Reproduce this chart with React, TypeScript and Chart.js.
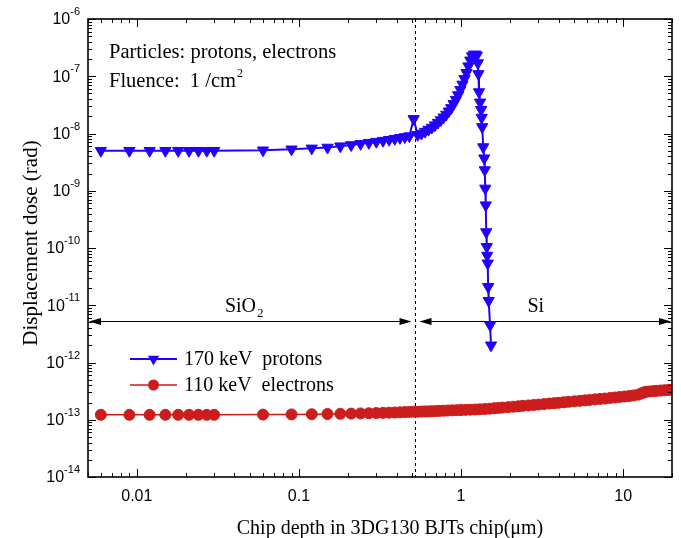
import React, { useEffect, useRef } from 'react';
import { Chart, registerables } from 'chart.js';

Chart.register(...registerables);

// ---------- data ----------
const protonDepth = [
  0.006, 0.009, 0.012, 0.015, 0.018, 0.021, 0.024, 0.027, 0.03,
  0.06, 0.09, 0.12, 0.15, 0.18, 0.21, 0.24, 0.27, 0.30, 0.33, 0.36, 0.39, 0.42, 0.45, 0.48, 0.51,
  0.54, 0.57, 0.60, 0.63, 0.66, 0.69, 0.72, 0.75, 0.78, 0.81, 0.84, 0.87, 0.90, 0.93, 0.96, 0.99,
  1.02, 1.05, 1.08, 1.11, 1.14, 1.17, 1.20, 1.23, 1.25,
  1.27, 1.28, 1.29, 1.31, 1.33, 1.34, 1.35, 1.37, 1.39, 1.40, 1.41, 1.42, 1.43, 1.44, 1.45, 1.46,
  1.47, 1.48, 1.51, 1.53,
];
const protonDose = [
  5.0e-9, 5.0e-9, 5.0e-9, 5.0e-9, 5.0e-9, 5.0e-9, 5.0e-9, 5.0e-9, 5.0e-9,
  5.1e-9, 5.3e-9, 5.5e-9, 5.7e-9, 6.0e-9, 6.3e-9, 6.6e-9, 6.9e-9, 7.2e-9, 7.5e-9, 7.8e-9, 8.1e-9, 8.4e-9, 8.7e-9, 9.0e-9, 1.8e-8,
  9.5e-9, 1.0e-8, 1.08e-8, 1.17e-8, 1.27e-8, 1.4e-8, 1.55e-8, 1.72e-8, 1.92e-8, 2.15e-8, 2.45e-8, 2.8e-8, 3.3e-8, 3.9e-8, 4.7e-8, 5.8e-8,
  7.2e-8, 9.0e-8, 1.15e-7, 1.5e-7, 1.9e-7, 2.25e-7, 2.4e-7, 2.4e-7, 2.3e-7,
  1.7e-7, 1.1e-7, 5.3e-8, 3.5e-8, 2.6e-8, 1.9e-8, 1.3e-8, 5.8e-9, 3.7e-9, 2.3e-9, 1.1e-9, 5.6e-10, 1.9e-10, 1.05e-10, 7.4e-11, 5.4e-11,
  2.1e-11, 1.2e-11, 4.5e-12, 2.0e-12,
];

const electronDepth = [
  0.006, 0.009, 0.012, 0.015, 0.018, 0.021, 0.024, 0.027, 0.03,
  0.06, 0.09, 0.12, 0.15, 0.18, 0.21, 0.24, 0.27, 0.30, 0.33, 0.36, 0.39, 0.42, 0.45, 0.48, 0.51,
  0.54, 0.57, 0.60, 0.63, 0.66, 0.70, 0.74, 0.78, 0.83, 0.88, 0.94, 1.0, 1.07, 1.14, 1.22,
  1.3, 1.4, 1.5, 1.6, 1.7, 1.8, 1.95, 2.1, 2.25, 2.4, 2.6, 2.8, 3.0, 3.25, 3.5,
  3.75, 4.0, 4.3, 4.6, 5.0, 5.4, 5.8, 6.2, 6.7, 7.2, 7.7, 8.3, 8.9, 9.5, 10.2,
  10.9, 11.6, 12.4, 13.0, 13.4, 13.8, 14.5, 15.3, 16.1, 17.0, 18.0, 19.0, 20.0,
];
const electronDose = [
  1.22e-13, 1.22e-13, 1.22e-13, 1.22e-13, 1.22e-13, 1.22e-13, 1.22e-13, 1.22e-13, 1.22e-13,
  1.23e-13, 1.24e-13, 1.25e-13, 1.26e-13, 1.27e-13, 1.28e-13, 1.29e-13, 1.30e-13, 1.31e-13, 1.32e-13, 1.33e-13, 1.34e-13, 1.35e-13, 1.36e-13, 1.37e-13, 1.38e-13,
  1.38e-13, 1.39e-13, 1.40e-13, 1.40e-13, 1.41e-13, 1.42e-13, 1.43e-13, 1.44e-13, 1.45e-13, 1.46e-13, 1.47e-13, 1.48e-13, 1.49e-13, 1.50e-13, 1.51e-13,
  1.52e-13, 1.54e-13, 1.56e-13, 1.59e-13, 1.61e-13, 1.63e-13, 1.66e-13, 1.69e-13, 1.72e-13, 1.75e-13, 1.78e-13, 1.81e-13, 1.84e-13, 1.88e-13, 1.92e-13,
  1.95e-13, 1.98e-13, 2.02e-13, 2.06e-13, 2.10e-13, 2.14e-13, 2.18e-13, 2.22e-13, 2.27e-13, 2.31e-13, 2.35e-13, 2.40e-13, 2.45e-13, 2.50e-13, 2.55e-13,
  2.60e-13, 2.66e-13, 2.75e-13, 2.90e-13, 3.00e-13, 3.08e-13, 3.12e-13, 3.16e-13, 3.20e-13, 3.24e-13, 3.28e-13, 3.31e-13, 3.34e-13,
];

const seriesLabels = ['170 keV  protons', '110 keV  electrons'];
const xTickValues = [0.01, 0.1, 1, 10];
const xTickLabels = ['0.01', '0.1', '1', '10'];
const yTickExponents = [-14, -13, -12, -11, -10, -9, -8, -7, -6];
const xRange = [0.005, 20];
const yRange = [1e-14, 1e-6];
const boundaryDepth = 0.52;
const arrowDose = 5.3e-12;
const regionLabels = ['SiO', 'Si'];
const xTitle = 'Chip depth in 3DG130 BJTs chip(\u03bcm)';
const yTitle = 'Displacement dose (rad)';
const noteLine1 = 'Particles: protons, electrons';
const noteLine2 = 'Fluence:  1 /cm';

// ---------- styles ----------
const BLUE = '#2200ff';
const RED = '#cc1c1c';
const SERIF = '"Liberation Serif", "Times New Roman", serif';
const SANS = '"Liberation Sans", Arial, sans-serif';

function drawArrowHead(ctx: CanvasRenderingContext2D, tipX: number, y: number, dir: number) {
  ctx.beginPath();
  ctx.moveTo(tipX, y);
  ctx.lineTo(tipX - dir * 12, y - 3.5);
  ctx.lineTo(tipX - dir * 12, y + 3.5);
  ctx.closePath();
  ctx.fill();
}

function drawDoubleArrow(ctx: CanvasRenderingContext2D, x1: number, x2: number, y: number) {
  ctx.beginPath();
  ctx.moveTo(x1 + 4, y);
  ctx.lineTo(x2 - 4, y);
  ctx.stroke();
  drawArrowHead(ctx, x1, y, -1);
  drawArrowHead(ctx, x2, y, 1);
}

function drawDownTriangle(ctx: CanvasRenderingContext2D, cx: number, cy: number, r: number) {
  const h = r * Math.sin(Math.PI / 3);
  ctx.beginPath();
  ctx.moveTo(cx, cy + r);
  ctx.lineTo(cx - h, cy - r / 2);
  ctx.lineTo(cx + h, cy - r / 2);
  ctx.closePath();
  ctx.fill();
}

const framePlugin = {
  id: 'frame',
  beforeDatasetsDraw(chart: any) {
    const { ctx, chartArea: a } = chart;
    const x = chart.scales.x;
    const y = chart.scales.y;
    ctx.save();
    const bx = Math.round(x.getPixelForValue(boundaryDepth)) + 0.5;
    ctx.strokeStyle = '#000';
    ctx.lineWidth = 1;
    ctx.setLineDash([3, 3]);
    ctx.beginPath();
    ctx.moveTo(bx, a.top);
    ctx.lineTo(bx, a.bottom);
    ctx.stroke();
    ctx.setLineDash([]);

    const ay = Math.round(y.getPixelForValue(arrowDose)) + 0.5;
    ctx.fillStyle = '#000';
    drawDoubleArrow(ctx, a.left + 1, bx - 4, ay);
    drawDoubleArrow(ctx, bx + 4, a.right - 1, ay);

    // region labels
    ctx.font = `20px ${SERIF}`;
    ctx.textBaseline = 'alphabetic';
    ctx.textAlign = 'left';
    const sioW = ctx.measureText(regionLabels[0]).width;
    ctx.font = `13px ${SERIF}`;
    const subW = ctx.measureText('2').width;
    const sioX = (a.left + bx) / 2 - 8 - (sioW + subW) / 2;
    ctx.font = `20px ${SERIF}`;
    ctx.fillText(regionLabels[0], sioX, ay - 10);
    ctx.font = `13px ${SERIF}`;
    ctx.fillText('2', sioX + sioW + 1, ay - 5);
    ctx.font = `20px ${SERIF}`;
    ctx.textAlign = 'center';
    ctx.fillText(regionLabels[1], (bx + a.right) / 2 - 8, ay - 10);
    ctx.restore();
  },
  afterDraw(chart: any) {
    const { ctx, chartArea: a } = chart;
    const x = chart.scales.x;
    const y = chart.scales.y;
    ctx.save();
    ctx.strokeStyle = '#000';
    ctx.fillStyle = '#000';

    // ticks (inward) on all four sides
    ctx.lineWidth = 1;
    ctx.beginPath();
    for (let d = -3; d <= 2; d++) {
      for (let k = 1; k <= 9; k++) {
        const v = k * Math.pow(10, d);
        if (v < xRange[0] * 0.999 || v > xRange[1] * 1.001) continue;
        const px = Math.round(x.getPixelForValue(v)) + 0.5;
        const len = k === 1 ? 8 : 4;
        ctx.moveTo(px, a.bottom);
        ctx.lineTo(px, a.bottom - len);
        ctx.moveTo(px, a.top);
        ctx.lineTo(px, a.top + len);
      }
    }
    for (let d = -14; d <= -6; d++) {
      for (let k = 1; k <= 9; k++) {
        const v = k * Math.pow(10, d);
        if (v < yRange[0] * 0.999 || v > yRange[1] * 1.001) continue;
        const py = Math.round(y.getPixelForValue(v)) + 0.5;
        const len = k === 1 ? 8 : 4;
        ctx.moveTo(a.left, py);
        ctx.lineTo(a.left + len, py);
        ctx.moveTo(a.right, py);
        ctx.lineTo(a.right - len, py);
      }
    }
    ctx.stroke();

    // box
    ctx.lineWidth = 1.6;
    ctx.strokeRect(a.left, a.top, a.right - a.left, a.bottom - a.top);

    // x tick labels
    ctx.font = `16px ${SANS}`;
    ctx.textAlign = 'center';
    ctx.textBaseline = 'middle';
    xTickValues.forEach((v, i) => {
      ctx.fillText(xTickLabels[i], x.getPixelForValue(v), a.bottom + 20);
    });

    // y tick labels 10^n
    yTickExponents.forEach((e) => {
      const py = y.getPixelForValue(Math.pow(10, e));
      const ex = String(e);
      ctx.font = `11px ${SANS}`;
      const ew = ctx.measureText(ex).width;
      const right = a.left - 8;
      ctx.textAlign = 'left';
      ctx.textBaseline = 'middle';
      ctx.fillText(ex, right - ew, py - 7);
      ctx.font = `16px ${SANS}`;
      ctx.textAlign = 'right';
      ctx.fillText('10', right - ew, py + 1);
    });

    // axis titles
    ctx.font = `20px ${SERIF}`;
    ctx.textAlign = 'center';
    ctx.textBaseline = 'alphabetic';
    ctx.fillText(xTitle, (a.left + a.right) / 2 + 10, a.bottom + 57);
    ctx.save();
    ctx.translate(37, (a.top + a.bottom) / 2 - 5);
    ctx.rotate(-Math.PI / 2);
    ctx.font = `21px ${SERIF}`;
    ctx.textBaseline = 'alphabetic';
    ctx.fillText(yTitle, 0, 0);
    ctx.restore();

    // notes
    ctx.font = `20.5px ${SERIF}`;
    ctx.textAlign = 'left';
    ctx.textBaseline = 'alphabetic';
    ctx.fillText(noteLine1, a.left + 21, a.top + 39);
    ctx.fillText(noteLine2, a.left + 21, a.top + 68);
    const w2 = ctx.measureText(noteLine2).width;
    ctx.font = `12px ${SERIF}`;
    ctx.fillText('2', a.left + 21 + w2 + 1, a.top + 58);

    // legend
    const colors = [BLUE, RED];
    const widths = [2, 1.5];
    colors.forEach((color, i) => {
      const ly = 359 + i * 26;
      ctx.strokeStyle = color;
      ctx.fillStyle = color;
      ctx.lineWidth = widths[i];
      ctx.beginPath();
      ctx.moveTo(130, ly);
      ctx.lineTo(177, ly);
      ctx.stroke();
      if (i === 0) {
        drawDownTriangle(ctx, 153.5, ly, 6.5);
      } else {
        ctx.beginPath();
        ctx.arc(153.5, ly, 5.5, 0, Math.PI * 2);
        ctx.fill();
      }
      ctx.fillStyle = '#000';
      ctx.font = `20px ${SERIF}`;
      ctx.textAlign = 'left';
      ctx.textBaseline = 'middle';
      ctx.fillText(seriesLabels[i], 184, ly + 1);
    });
    ctx.restore();
  },
};

export default function App() {
  const ref = useRef<HTMLCanvasElement>(null);
  useEffect(() => {
    const protonPts = protonDepth.map((d, i) => ({ x: d, y: protonDose[i] }));
    const electronPts = electronDepth.map((d, i) => ({ x: d, y: electronDose[i] }));
    const chart = new Chart(ref.current as HTMLCanvasElement, {
      type: 'scatter',
      data: {
        datasets: [
          {
            label: seriesLabels[1],
            data: electronPts,
            showLine: true,
            borderColor: RED,
            backgroundColor: RED,
            borderWidth: 1.5,
            pointStyle: 'circle',
            pointRadius: 5.5,
            pointBorderWidth: 1,
            tension: 0,
          },
          {
            label: seriesLabels[0],
            data: protonPts,
            showLine: true,
            borderColor: BLUE,
            backgroundColor: BLUE,
            borderWidth: 2,
            pointStyle: 'triangle',
            pointRotation: 180,
            pointRadius: 6.5,
            pointBorderWidth: 1,
            tension: 0,
          },
        ],
      } as any,
      options: {
        responsive: false,
        animation: false,
        events: [],
        layout: { padding: { left: 88, right: 9, top: 19, bottom: 61 }, autoPadding: false } as any,
        plugins: { legend: { display: false }, tooltip: { enabled: false }, title: { display: false } },
        scales: {
          x: { type: 'logarithmic', min: xRange[0], max: xRange[1], display: false },
          y: { type: 'logarithmic', min: yRange[0], max: yRange[1], display: false },
        },
      },
      plugins: [framePlugin],
    });
    return () => chart.destroy();
  }, []);
  return (
    <div style={{ position: 'fixed', left: 0, top: 0, width: 681, height: 538, background: '#fff' }}>
      <canvas ref={ref} width={681} height={538} style={{ display: 'block', width: 681, height: 538 }} />
    </div>
  );
}
